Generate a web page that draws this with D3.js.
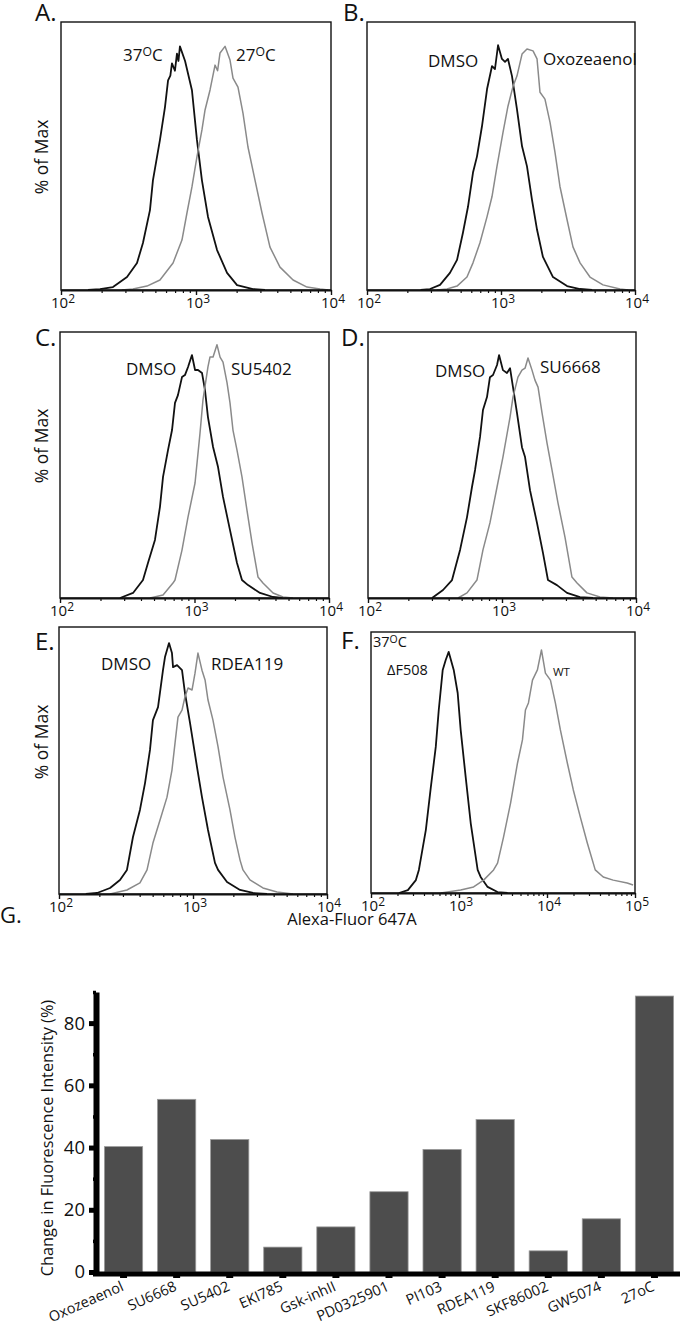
<!DOCTYPE html>
<html><head><meta charset="utf-8">
<script src="https://cdn.jsdelivr.net/npm/d3@7"></script>
<style>body{margin:0;background:#fff} text{font-family:"Open Sans",sans-serif;fill:#111}</style>
</head><body><svg id="c" width="680" height="1326"></svg>
<script>
// ---- Histogram data: [log10(Alexa-Fluor 647A), % of Max] ----
const histA37 = [[2.20,0],[2.289,0.4],[2.385,1.2],[2.489,5.3],[2.563,11.1],[2.607,19.3],[2.659,32.8],[2.681,45],[2.733,61.6],[2.770,75],[2.793,86],[2.810,88],[2.822,93],[2.844,90],[2.859,97],[2.870,94],[2.881,100],[2.919,94],[2.970,82],[3.007,61.6],[3.044,45],[3.089,30],[3.156,16.4],[3.230,7],[3.304,2],[3.422,0.4],[3.511,0]];
const histA27 = [[2.45,0],[2.533,0.4],[2.637,1.6],[2.733,4.1],[2.830,11.1],[2.896,20.5],[2.933,31.6],[2.970,42.3],[3.007,54.6],[3.044,65.7],[3.067,73.9],[3.104,82.1],[3.141,92.3],[3.160,90],[3.178,97.3],[3.215,100],[3.252,94.4],[3.274,87],[3.311,83.3],[3.348,72.6],[3.385,58.7],[3.437,45.1],[3.489,31.6],[3.548,17.6],[3.622,9.4],[3.719,4.1],[3.822,1.2],[3.919,0.4],[3.98,0]];
const histBDmso = [[2.40,0],[2.470,0.4],[2.545,2.1],[2.619,7.0],[2.672,12.3],[2.716,23.4],[2.754,34.1],[2.791,48],[2.821,54.6],[2.858,66.9],[2.896,82.1],[2.933,91.5],[2.955,90.3],[2.978,100],[3.007,94.4],[3.030,93.2],[3.052,94.4],[3.082,87.4],[3.119,73.9],[3.157,58.7],[3.194,50.5],[3.231,36.9],[3.269,24.6],[3.313,13.5],[3.388,5.3],[3.493,1.6],[3.590,0.4],[3.68,0]];
const histBOxo = [[2.52,0],[2.597,0.4],[2.672,1.6],[2.746,5.3],[2.791,11.1],[2.843,19.3],[2.896,30],[2.933,38.2],[2.970,50.5],[3.015,64.4],[3.052,75.1],[3.090,83.3],[3.119,87.4],[3.157,96.4],[3.194,98.5],[3.239,97.7],[3.269,94.4],[3.291,80.8],[3.328,78],[3.366,68.5],[3.403,56.2],[3.440,42.3],[3.493,28.7],[3.537,17.6],[3.590,11.1],[3.664,5.3],[3.761,2.1],[3.888,0.4],[3.95,0]];
const histCDmso = [[2.446,0],[2.543,2.0],[2.617,7.1],[2.654,13.8],[2.706,22.9],[2.743,35.9],[2.766,47.8],[2.803,58.4],[2.833,66.3],[2.855,77],[2.877,80.1],[2.907,87.2],[2.929,88],[2.952,91.2],[2.981,95.9],[3.004,90],[3.026,90],[3.056,88.8],[3.078,82.1],[3.100,71.4],[3.138,59.6],[3.175,51.7],[3.212,39.9],[3.264,26.8],[3.316,13.8],[3.353,7.1],[3.398,5.1],[3.487,2.0],[3.584,0.4],[3.658,0]];
const histCSu5402 = [[2.669,0],[2.766,1.2],[2.840,5.9],[2.855,7.1],[2.907,18.9],[2.952,32],[3.004,45.4],[3.041,65.1],[3.063,78.2],[3.100,91.2],[3.115,95.1],[3.138,95.1],[3.167,100],[3.190,95.1],[3.212,93.1],[3.242,84.9],[3.264,77],[3.286,66.3],[3.316,58.4],[3.353,47.8],[3.390,34.7],[3.428,21.7],[3.472,8.3],[3.509,5.9],[3.584,2.0],[3.658,0.4],[3.732,0]];
const histDDmso = [[2.478,0],[2.560,3.3],[2.627,7.4],[2.687,19.8],[2.739,33.3],[2.776,45.7],[2.799,52.7],[2.836,66.3],[2.858,77.4],[2.888,82.7],[2.910,90.9],[2.933,91.8],[2.963,95.9],[2.978,100],[3.007,93.8],[3.037,92.6],[3.060,94.6],[3.082,86.8],[3.112,76.1],[3.149,62.1],[3.172,58],[3.209,44.4],[3.261,30.9],[3.306,18.5],[3.343,7.4],[3.410,5.3],[3.485,2.1],[3.582,0.4],[3.679,0]];
const histDSu6668 = [[2.672,0],[2.739,2.1],[2.813,7.4],[2.858,19.8],[2.910,30.9],[2.963,45.7],[3.007,58],[3.060,74.5],[3.082,82.7],[3.119,90.9],[3.149,93.8],[3.172,94.6],[3.194,98.8],[3.224,93.8],[3.246,89.7],[3.269,86.8],[3.299,76.1],[3.336,63.8],[3.373,52.7],[3.418,39.1],[3.470,25.1],[3.522,8.6],[3.560,6.2],[3.634,2.1],[3.731,0.4],[3.828,0]];
const histEDmso = [[2.20,0],[2.284,0.4],[2.381,2.4],[2.455,5.6],[2.507,9.6],[2.552,22.7],[2.604,33.5],[2.642,44.2],[2.679,57.4],[2.701,69.3],[2.739,74.5],[2.776,89.2],[2.791,94.4],[2.821,100],[2.843,96],[2.851,90.4],[2.881,91.2],[2.918,89.2],[2.940,80.1],[2.978,68.1],[3.030,50.6],[3.067,38.6],[3.112,25.5],[3.164,12.4],[3.187,9.6],[3.254,4.8],[3.351,1.6],[3.448,0.4],[3.552,0]];
const histERdea = [[2.381,0],[2.507,1.6],[2.604,4.4],[2.657,9.6],[2.701,20.3],[2.754,29.5],[2.806,38.6],[2.843,49.4],[2.866,60.2],[2.888,70.5],[2.918,73.3],[2.940,78.5],[2.963,82.1],[2.993,81.3],[3.015,88],[3.037,96],[3.067,89.2],[3.090,85.3],[3.112,77.3],[3.149,69.3],[3.187,58.6],[3.224,46.6],[3.276,33.5],[3.313,22.7],[3.351,13.5],[3.373,9.6],[3.425,5.6],[3.522,2.4],[3.627,0.8],[3.746,0]];
const histFDelta = [[2.317,0],[2.419,1.2],[2.510,5.3],[2.544,9.5],[2.623,25.9],[2.680,43.6],[2.736,60.1],[2.770,75.3],[2.815,91.8],[2.849,95.9],[2.883,99.2],[2.940,91.8],[2.985,82.3],[3.019,67.1],[3.076,47.7],[3.133,28.8],[3.212,9.5],[3.246,6.6],[3.325,2.5],[3.438,0.4],[3.552,0]];
const histFWt = [[2.793,0],[3.019,1.2],[3.166,2.5],[3.280,5.3],[3.393,9.5],[3.438,12.3],[3.506,23],[3.586,37],[3.665,53.5],[3.721,63],[3.755,75.3],[3.789,78.2],[3.835,87.6],[3.891,91.8],[3.937,100],[3.982,90.5],[4.039,87.6],[4.095,78.2],[4.152,67.1],[4.231,53.5],[4.299,42.4],[4.378,31.3],[4.458,20.6],[4.548,9.5],[4.639,6.6],[4.752,5.3],[4.911,4.1],[4.978,3.3]];

// ---- Panel G data ----
const drugs = ["Oxozeaenol","SU6668","SU5402","EKI785","Gsk-inhII","PD0325901","PI103","RDEA119","SKF86002","GW5074","27oC"];
const changePct = [40.3,55.5,42.6,8.0,14.5,25.8,39.4,49.0,6.8,17.1,88.7];
const gYTicks = [0,20,40,60,80];
const gYMinor = [10,30,50,70,90];

const svg = d3.select("#c");
const BLACK = "#111", GRAY = "#8a8a8a";

const panels = [
 {letter:"A.", lp:[35,21], box:[61,331,22,290], dom:[2,4], yMax:110, ylab:157,
  curves:[[histA37,BLACK],[histA27,GRAY]],
  notes:[["37°C",123,61,17],["27°C",236,61,17]]},
 {letter:"B.", lp:[343,21], box:[367,635,22,290], dom:[2,4], yMax:109.5, ylab:null,
  curves:[[histBDmso,BLACK],[histBOxo,GRAY]],
  notes:[["DMSO",428,67,17],["Oxozeaenol",543,65,17]]},
 {letter:"C.", lp:[35,346], box:[60,329,332,598], dom:[2,4], yMax:105, ylab:446,
  curves:[[histCDmso,BLACK],[histCSu5402,GRAY]],
  notes:[["DMSO",126,375,17],["SU5402",231,375,17]]},
 {letter:"D.", lp:[341,346], box:[368,636,332,598], dom:[2,4], yMax:109.5, ylab:null,
  curves:[[histDDmso,BLACK],[histDSu6668,GRAY]],
  notes:[["DMSO",435,377,17],["SU6668",540,373,17]]},
 {letter:"E.", lp:[35,650], box:[59,327,627,894], dom:[2,4], yMax:106.4, ylab:742,
  curves:[[histEDmso,BLACK],[histERdea,GRAY]],
  notes:[["DMSO",101,670,17],["RDEA119",211,670,17]]},
 {letter:"F.", lp:[341,649], box:[371,635,632,893], dom:[2,5], yMax:107.4, ylab:null,
  curves:[[histFDelta,BLACK],[histFWt,GRAY]],
  notes:[["37°C",373,647,14.5],["ΔF508",387,675,14.5],["WT",553,676,11.5]]}
];

function note(g, t, x, y, size){
  const tx = g.append("text").attr("x",x).attr("y",y).attr("font-size",size);
  if (t.includes("°")) {
    const [a,b] = t.split("°");
    tx.append("tspan").text(a);
    tx.append("tspan").attr("font-size",size*0.72).attr("dy",-size*0.3).text("O");
    tx.append("tspan").attr("dy",size*0.3).text(b);
  } else tx.text(t);
}

panels.forEach(p=>{
  const [x0,x1,y0,y1] = p.box;
  const g = svg.append("g");
  const x = d3.scaleLog().domain([10**p.dom[0],10**p.dom[1]]).range([x0,x1]);
  const y = d3.scaleLinear().domain([0,p.yMax]).range([y1,y0]);
  const line = d3.line().x(d=>x(10**d[0])).y(d=>y(d[1]));
  p.curves.forEach(([data,col])=>{
    g.append("path").datum(data).attr("d",line).attr("fill","none")
     .attr("stroke",col).attr("stroke-width",col===BLACK?1.8:1.5).attr("stroke-linejoin","round");
  });
  g.append("rect").attr("x",x0).attr("y",y0).attr("width",x1-x0).attr("height",y1-y0)
   .attr("fill","none").attr("stroke","#111").attr("stroke-width",1.4);
  const major = d3.range(p.dom[0],p.dom[1]+1).map(e=>10**e);
  const minor = [];
  for (let e=p.dom[0]; e<p.dom[1]; e++) for (let k=2;k<10;k++) minor.push(k*10**e);
  g.append("g").attr("transform",`translate(0,${y1})`)
   .call(d3.axisBottom(x).tickValues(minor).tickSize(3).tickFormat("").tickSizeOuter(0))
   .call(s=>{s.select(".domain").attr("stroke-width",2).attr("stroke","#111");s.selectAll("line").attr("stroke","#111").attr("stroke-width",1.2);});
  g.append("g").attr("transform",`translate(0,${y1})`)
   .call(d3.axisBottom(x).tickValues(major).tickSize(5).tickFormat("").tickSizeOuter(0))
   .call(s=>{s.select(".domain").remove();s.selectAll("line").attr("stroke","#111").attr("stroke-width",1.4);});
  major.forEach((v,i)=>{
    const t = g.append("text").attr("x",x(v)+2).attr("y",y1+18).attr("text-anchor","middle").attr("font-size",15);
    t.append("tspan").text("10");
    t.append("tspan").attr("font-size",12).attr("dy",-5).text(p.dom[0]+i);
  });
  g.append("text").attr("x",p.lp[0]).attr("y",p.lp[1]).attr("font-size",24).text(p.letter);
  if (p.ylab!==null) g.append("text").attr("transform",`translate(48,${p.ylab}) rotate(-90)`)
     .attr("text-anchor","middle").attr("font-size",17.5).text("% of Max");
  p.notes.forEach(n=>note(g,...n));
});
svg.append("text").attr("x",352).attr("y",925).attr("text-anchor","middle").attr("font-size",16.5).text("Alexa-Fluor 647A");

// ---- Panel G ----
const G = svg.append("g");
const xb = d3.scaleBand().domain(drugs).range([97,681]).paddingInner(0.28).paddingOuter(0.14);
const yb = d3.scaleLinear().domain([0,90]).range([1272,992]);
G.selectAll("rect.bar").data(drugs).join("rect").attr("class","bar")
 .attr("x",d=>xb(d)).attr("y",(d,i)=>yb(changePct[i])).attr("width",xb.bandwidth())
 .attr("height",(d,i)=>yb(0)-yb(changePct[i])).attr("fill","#4d4d4d").attr("stroke","#9a9a9a").attr("stroke-width",0.8);
// y axis
G.append("g").attr("transform","translate(96,0)")
 .call(d3.axisLeft(yb).tickValues(gYMinor).tickSize(3).tickFormat("").tickSizeOuter(0))
 .call(s=>{s.select(".domain").attr("stroke","#000").attr("stroke-width",6);s.selectAll("line").attr("stroke","#000").attr("stroke-width",3.5);});
G.append("g").attr("transform","translate(96,0)")
 .call(d3.axisLeft(yb).tickValues(gYTicks).tickSize(7).tickPadding(4).tickSizeOuter(0))
 .call(s=>{s.select(".domain").remove();s.selectAll("line").attr("stroke","#000").attr("stroke-width",5);
   s.selectAll("text").attr("font-size",18.5).attr("font-family","'Open Sans',sans-serif").attr("fill","#111");});
// x axis
G.append("g").attr("transform","translate(0,1274)")
 .call(d3.axisBottom(xb).tickSize(4).tickFormat("").tickSizeOuter(0))
 .call(s=>{s.select(".domain").remove();s.selectAll("line").attr("stroke","#000").attr("stroke-width",7);});
G.append("line").attr("x1",93).attr("x2",680).attr("y1",1274).attr("y2",1274).attr("stroke","#000").attr("stroke-width",5);
drugs.forEach(d=>{
  G.append("text").attr("transform",`translate(${xb(d)+xb.bandwidth()/2+1},${1290}) rotate(-24)`)
   .attr("text-anchor","end").attr("font-size",14.5).text(d);
});
G.append("text").attr("transform","translate(53,1138) rotate(-90)").attr("text-anchor","middle")
 .attr("font-size",16.3).text("Change in Fluorescence Intensity (%)");
G.append("text").attr("x",0).attr("y",923).attr("font-size",22).text("G.");
</script></body></html>
